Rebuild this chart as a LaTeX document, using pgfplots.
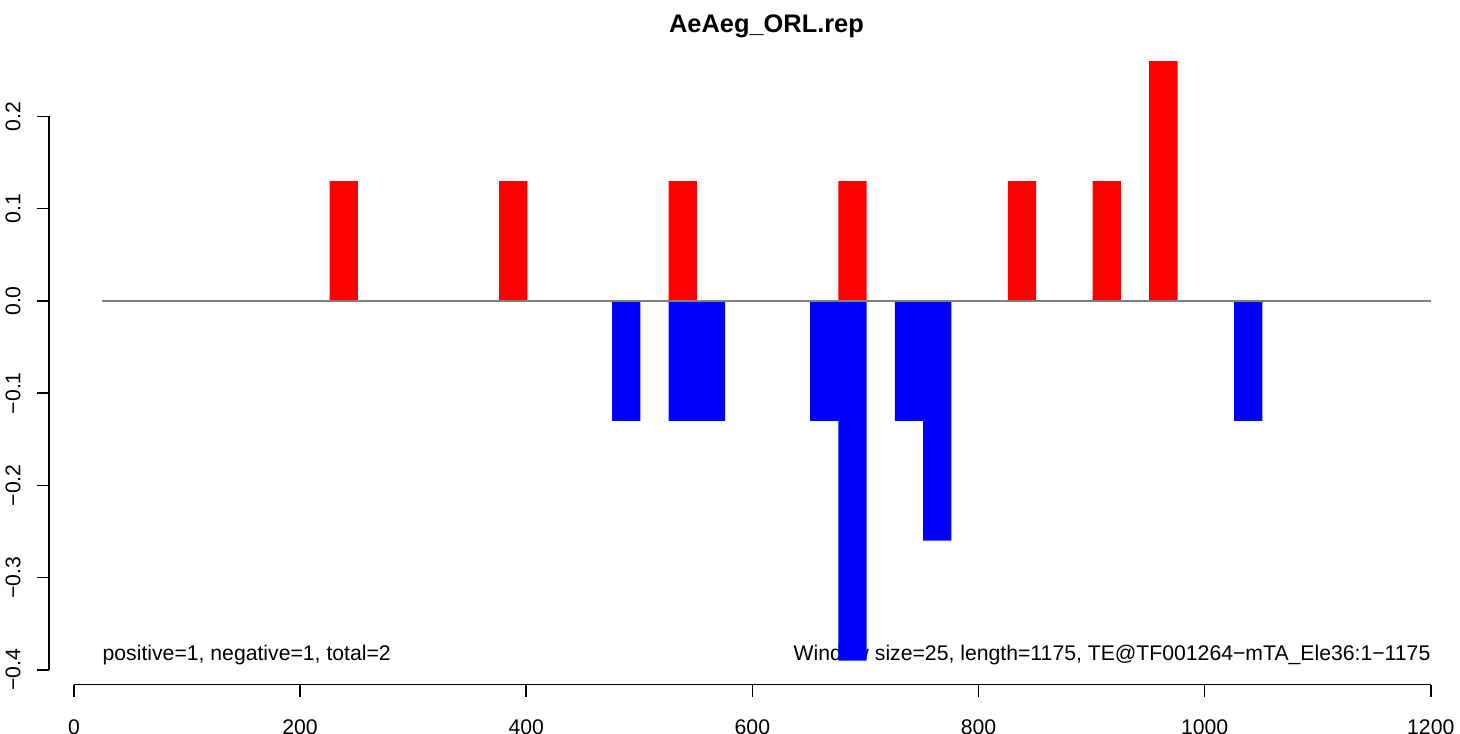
\documentclass[border=0pt]{standalone}
\usepackage{pgfplots}
\pgfplotsset{compat=1.18}
\usepackage{fontspec}
\setmainfont{Liberation Sans}
\definecolor{Rred}{RGB}{255,0,0}
\definecolor{Rblue}{RGB}{0,0,255}
\definecolor{Rgray}{RGB}{128,128,128}
\begin{document}
\begin{tikzpicture}
\useasboundingbox (0,0) rectangle (730bp,367bp);
\begin{axis}[
  at={(24.55bp,24.7bp)}, anchor=south west,
  scale only axis, width=717.4bp, height=323.7bp,
  xmin=-22, xmax=1247, ymin=-0.416, ymax=0.286,
  separate axis lines,
  axis line style={draw=none},
  tick pos=left, tick align=outside,
  major tick length=6bp,
  tick style={black, line width=0.75bp},
  xtick={0,200,400,600,800,1000,1200},
  xticklabels={0,200,400,600,800,1000,1200},
  ytick={-0.4,-0.3,-0.2,-0.1,0,0.1,0.2},
  yticklabels={−0.4,−0.3,−0.2,−0.1,0.0,0.1,0.2},
  ticklabel style={font=\fontsize{10.6bp}{12bp}\selectfont},
  xticklabel style={anchor=north, inner sep=0pt, text height=7.6bp, text depth=0pt, yshift=-11bp},
  yticklabel style={rotate=90, anchor=south, inner sep=0pt, yshift=8bp},
  clip=false,
]
\node[anchor=base, font=\fontsize{12.7bp}{14bp}\selectfont\bfseries] at (axis description cs:0.5,1) [yshift=2.15bp] {AeAeg\_ORL.rep};
\node[anchor=base west, inner sep=0pt, font=\fontsize{10.6bp}{12bp}\selectfont] at (axis cs:25,-0.39) {positive=1, negative=1, total=2};
\node[anchor=base east, inner sep=0pt, font=\fontsize{10.6bp}{12bp}\selectfont] at (axis cs:1200,-0.39) {Window size=25, length=1175, TE@TF001264−mTA\_Ele36:1−1175};
\addplot[ybar, bar width=25, bar shift=0pt, fill=Rred, draw=none] coordinates {
  (238.5,0.13) (388.5,0.13) (538.5,0.13) (688.5,0.13) (838.5,0.13) (913.5,0.13) (963.5,0.26)};
\addplot[ybar, bar width=25, bar shift=0pt, fill=Rblue, draw=none] coordinates {
  (488.5,-0.13) (538.5,-0.13) (563.5,-0.13) (663.5,-0.13) (688.5,-0.39) (738.5,-0.13) (763.5,-0.26) (1038.5,-0.13)};
\addplot[Rgray, line width=0.75bp, mark=none] coordinates {(25,0) (1200,0)};
\draw[black, line width=0.75bp] (axis cs:0,-0.416) -- (axis cs:1200,-0.416);
\draw[black, line width=0.75bp] (axis cs:-22,-0.4) -- (axis cs:-22,0.2);
\end{axis}
\end{tikzpicture}
\end{document}
